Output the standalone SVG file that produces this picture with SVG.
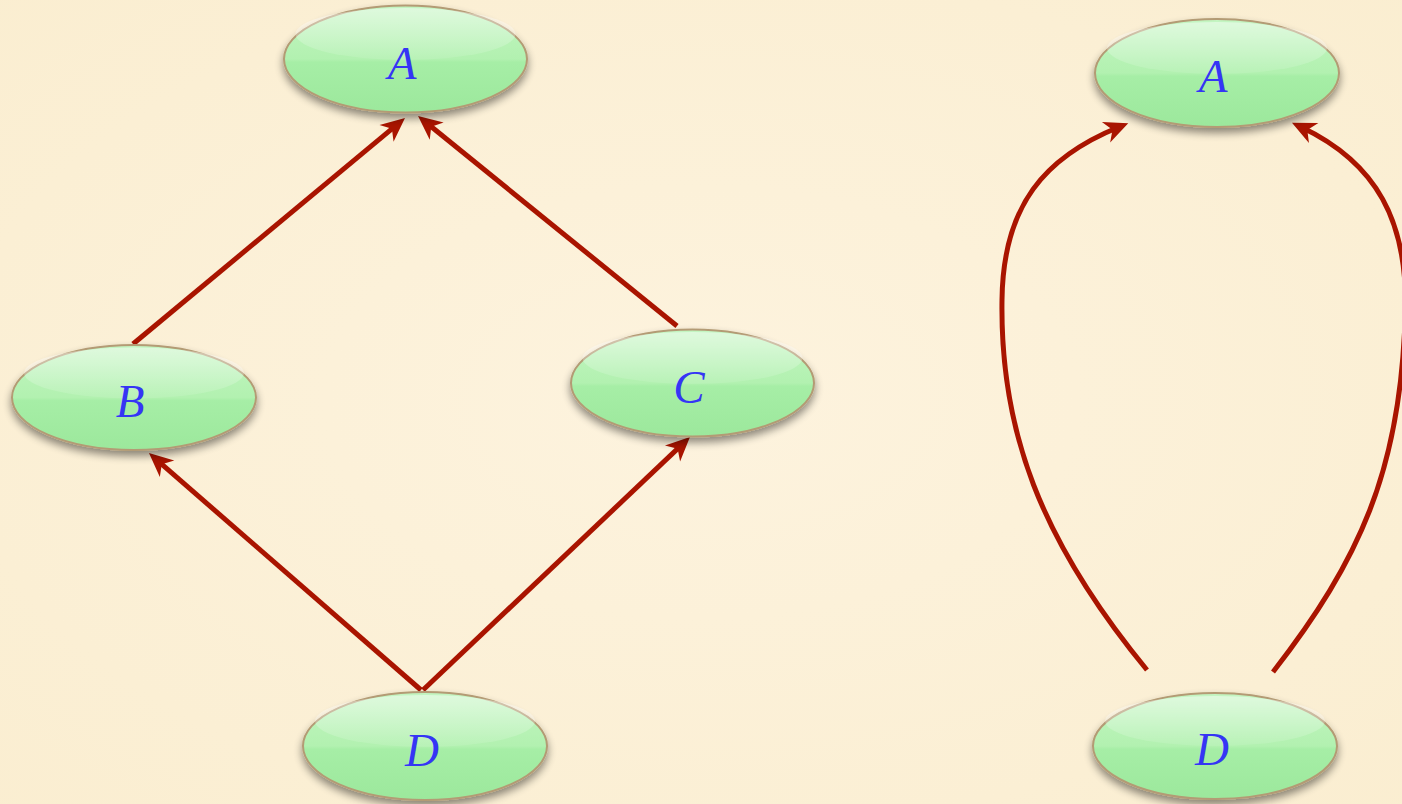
<svg xmlns="http://www.w3.org/2000/svg" width="1402" height="804" viewBox="0 0 1402 804">
  <style>
    .edge { fill: none; stroke: #a91400; stroke-width: 5; marker-end: url(#arrow); }
    .node-body { fill: url(#gBody); stroke: #b39b74; stroke-width: 2; filter: url(#shadow); }
    .node-gloss { fill: url(#gGloss); }
    .label { font-family: "Liberation Serif", "DejaVu Serif", serif; font-style: italic; font-size: 47px; fill: #3535f5; text-anchor: middle; }
  </style>
  <defs>
    <radialGradient id="bg" cx="0.5" cy="0.5" r="0.8">
      <stop offset="0" stop-color="#fdf3de"/>
      <stop offset="1" stop-color="#faedcf"/>
    </radialGradient>
    <linearGradient id="gBody" x1="0" y1="0" x2="0" y2="1">
      <stop offset="0" stop-color="#c4f5c2"/>
      <stop offset="0.5" stop-color="#b2f1b0"/>
      <stop offset="0.53" stop-color="#a6eea6"/>
      <stop offset="1" stop-color="#9ce89c"/>
    </linearGradient>
    <linearGradient id="gGloss" x1="0" y1="0" x2="0" y2="1">
      <stop offset="0" stop-color="#ffffff" stop-opacity="0.45"/>
      <stop offset="1" stop-color="#ffffff" stop-opacity="0.08"/>
    </linearGradient>
    <filter id="shadow" x="-20%" y="-20%" width="140%" height="150%">
      <feGaussianBlur in="SourceAlpha" stdDeviation="4"/>
      <feOffset dx="0" dy="5" result="b"/>
      <feComponentTransfer><feFuncA type="linear" slope="0.45"/></feComponentTransfer>
      <feMerge><feMergeNode/><feMergeNode in="SourceGraphic"/></feMerge>
    </filter>
    <marker id="arrow" markerUnits="userSpaceOnUse" markerWidth="40" markerHeight="40" viewBox="-30 -20 40 40" refX="-10" refY="0" orient="auto" overflow="visible">
      <path d="M0,0 L-24,-11 L-17,0 L-24,11 Z" fill="#a91400"/>
    </marker>
  </defs>

  <rect x="0" y="0" width="1402" height="804" fill="url(#bg)"/>

  <g id="connectors">
    <path class="edge" d="M133,344 L397.3,124.4"/>
    <path class="edge" d="M677,326 L425.8,122.3"/>
    <path class="edge" d="M421,690 L156.5,459.6"/>
    <path class="edge" d="M423,690 L682.7,443.9"/>
    <path class="edge" d="M1147,670 C1040,540 1000,430 1002,300 C1003,205 1045,157 1119,127"/>
    <path class="edge" d="M1273,672 C1360,560 1400,470 1405,320 C1410,220 1375,162 1301,127"/>
  </g>

  <g id="node-A-left">
    <ellipse class="node-body" cx="405.5" cy="59" rx="121.5" ry="53.5"/>
    <ellipse class="node-gloss" cx="405.5" cy="34" rx="110" ry="26"/>
    <text class="label" x="402" y="79">A</text>
  </g>
  <g id="node-B">
    <ellipse class="node-body" cx="134" cy="397.5" rx="122" ry="52.5"/>
    <ellipse class="node-gloss" cx="134" cy="373" rx="110" ry="25.5"/>
    <text class="label" x="130" y="417">B</text>
  </g>
  <g id="node-C">
    <ellipse class="node-body" cx="692.5" cy="383" rx="121.5" ry="53.5"/>
    <ellipse class="node-gloss" cx="692.5" cy="358" rx="110" ry="26"/>
    <text class="label" x="689" y="403">C</text>
  </g>
  <g id="node-D-left">
    <ellipse class="node-body" cx="425" cy="746" rx="122" ry="54"/>
    <ellipse class="node-gloss" cx="425" cy="721" rx="110" ry="26"/>
    <text class="label" x="422" y="766">D</text>
  </g>
  <g id="node-A-right">
    <ellipse class="node-body" cx="1217" cy="73" rx="122" ry="54"/>
    <ellipse class="node-gloss" cx="1217" cy="48" rx="110" ry="26"/>
    <text class="label" x="1213" y="92">A</text>
  </g>
  <g id="node-D-right">
    <ellipse class="node-body" cx="1215" cy="746" rx="122" ry="53"/>
    <ellipse class="node-gloss" cx="1215" cy="721" rx="110" ry="25"/>
    <text class="label" x="1212" y="765">D</text>
  </g>
</svg>
